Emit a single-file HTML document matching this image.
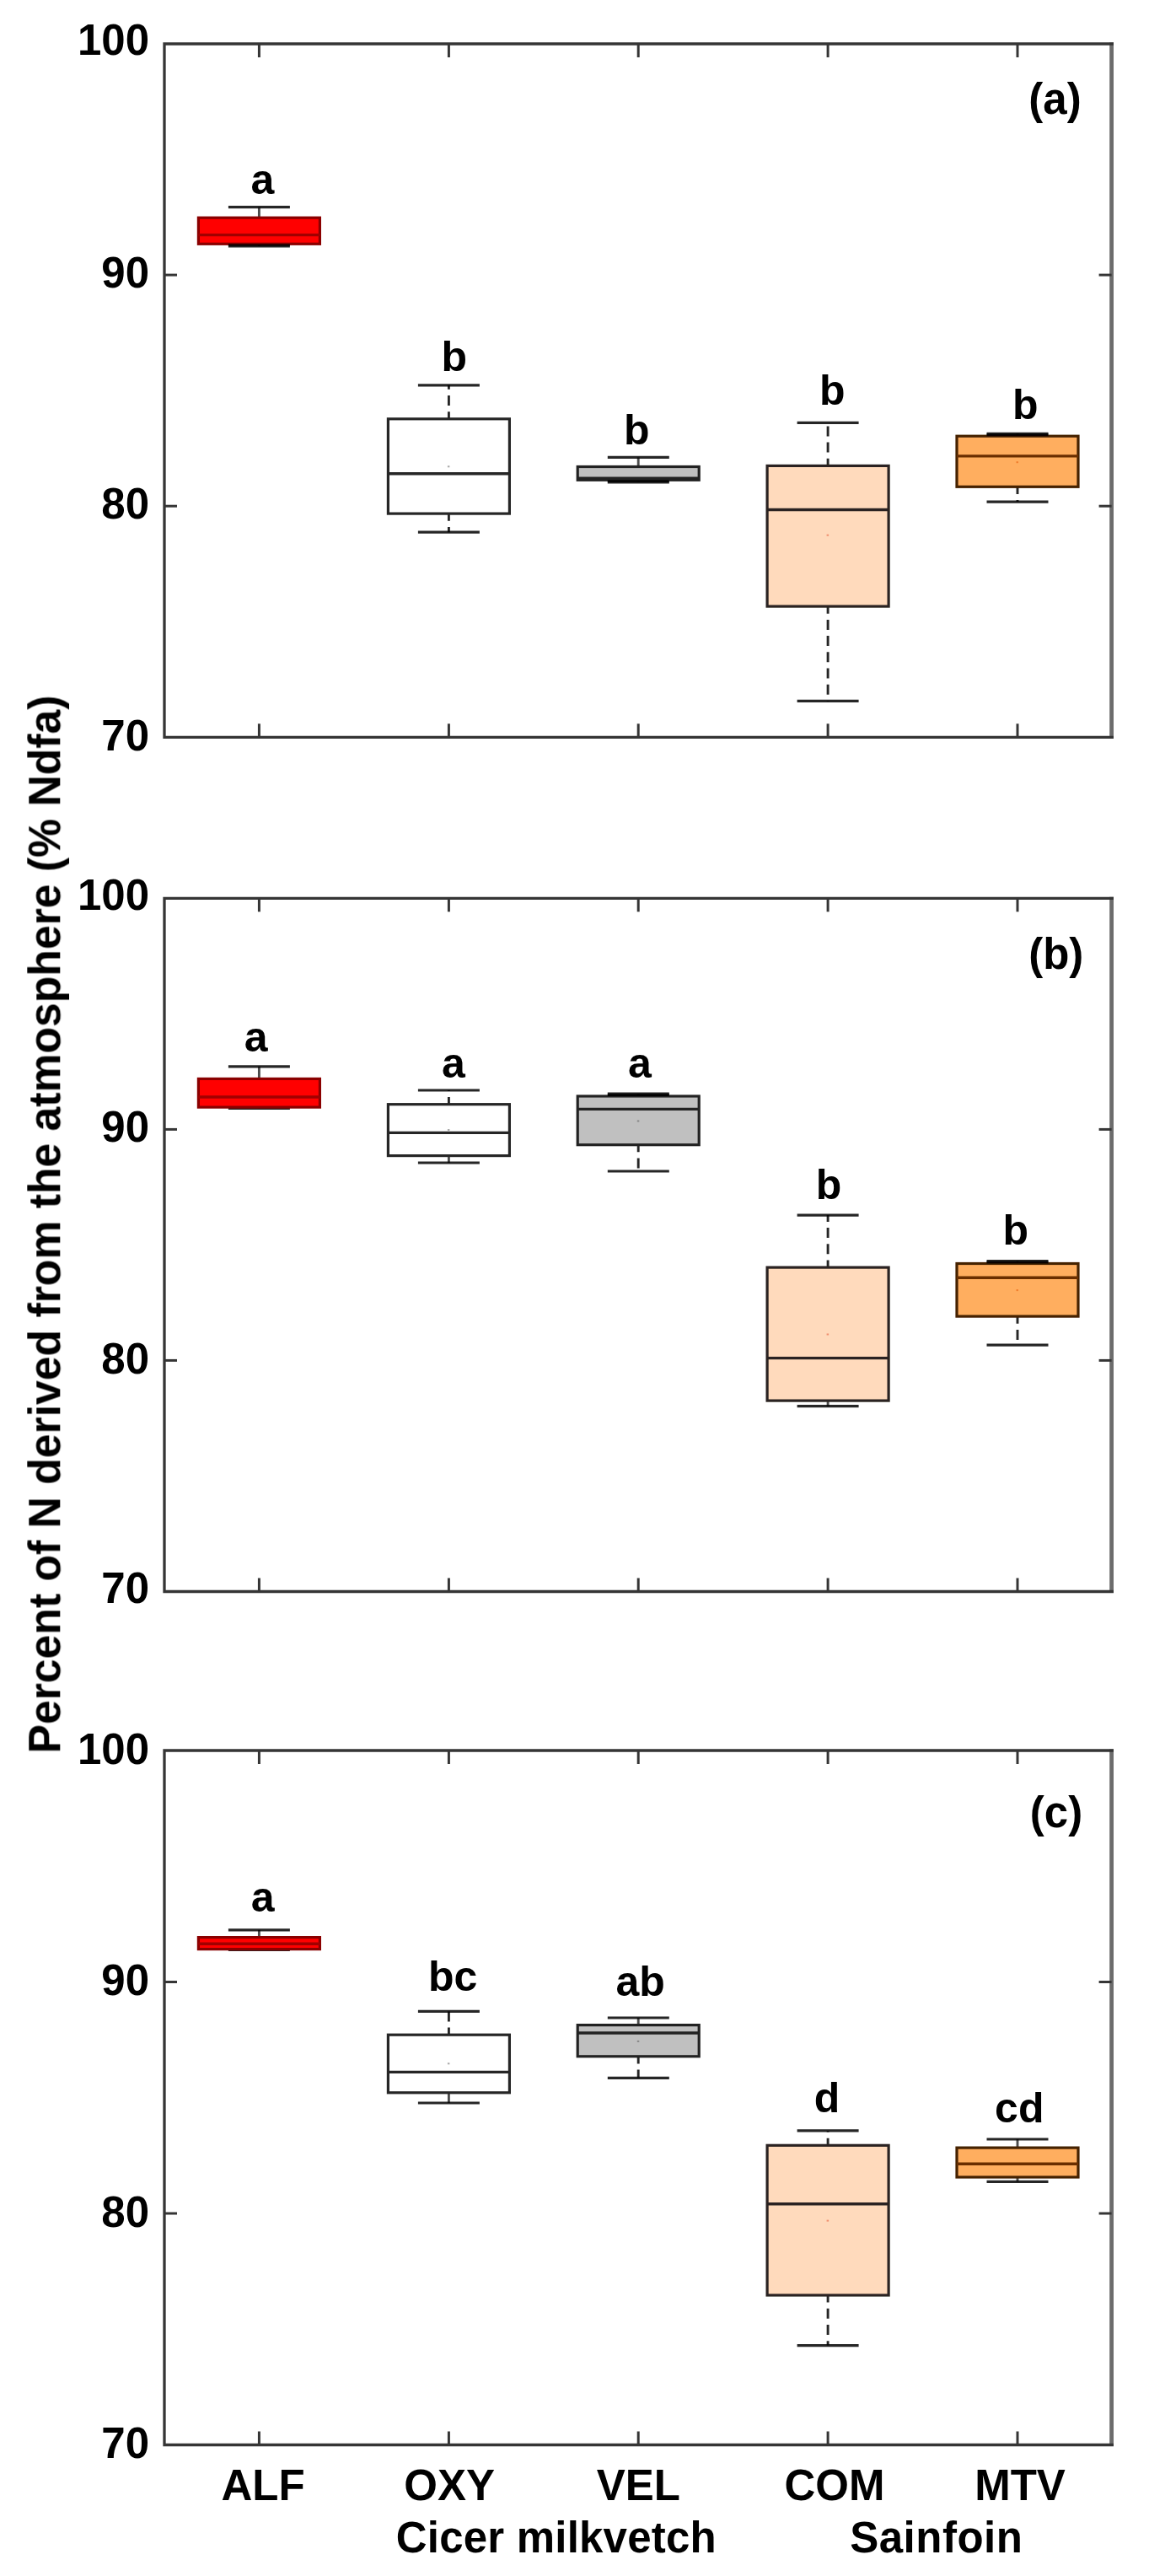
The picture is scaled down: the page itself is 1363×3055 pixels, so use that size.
<!DOCTYPE html>
<html lang="en"><head><meta charset="utf-8"><title>Percent of N derived from the atmosphere</title>
<style>
html,body{margin:0;padding:0;background:#fff}
svg{display:block}
text{font-family:"Liberation Sans",sans-serif;font-weight:bold;fill:#000}
.t{font-size:51px}
.s{font-size:50px}
</style></head><body>
<svg width="1363" height="3055" viewBox="0 0 1363 3055">
<rect width="1363" height="3055" fill="#fff"/>
<defs><filter id="soft" x="0" y="0" width="1363" height="3055" filterUnits="userSpaceOnUse"><feGaussianBlur stdDeviation="0.75"/></filter></defs>
<g filter="url(#soft)">
<g id="panel-a">
<line x1="307.4" y1="258.2" x2="307.4" y2="245.7" stroke="#000" stroke-opacity="0.7" stroke-width="2.9"/>
<line x1="307.4" y1="289.3" x2="307.4" y2="291.8" stroke="#000" stroke-opacity="0.7" stroke-width="2.9"/>
<line x1="270.9" y1="245.7" x2="343.9" y2="245.7" stroke="#000" stroke-opacity="0.85" stroke-width="3.2"/>
<line x1="270.9" y1="291.8" x2="343.9" y2="291.8" stroke="#000" stroke-opacity="0.85" stroke-width="3.2"/>
<rect x="235.4" y="258.2" width="144.0" height="31.1" fill="#ff0000" stroke="#8a0000" stroke-width="3.2"/>
<line x1="235.4" y1="278.6" x2="379.4" y2="278.6" stroke="#a00000" stroke-width="3.4"/>
<rect x="270.9" y="289.3" width="73.0" height="2.5" fill="#000" fill-opacity="0.85"/>
<text class="s" x="311.5" y="229.8" text-anchor="middle">a</text>
<line x1="532.4" y1="496.8" x2="532.4" y2="456.8" stroke="#000" stroke-opacity="0.85" stroke-width="2.9" stroke-dasharray="12 7.2" stroke-dashoffset="3.4"/>
<line x1="532.4" y1="609.1" x2="532.4" y2="631.2" stroke="#000" stroke-opacity="0.85" stroke-width="2.9" stroke-dasharray="12 7.2" stroke-dashoffset="3.4"/>
<line x1="495.9" y1="456.8" x2="568.9" y2="456.8" stroke="#000" stroke-opacity="0.85" stroke-width="3.2"/>
<line x1="495.9" y1="631.2" x2="568.9" y2="631.2" stroke="#000" stroke-opacity="0.85" stroke-width="3.2"/>
<rect x="460.4" y="496.8" width="144.0" height="112.3" fill="#ffffff" stroke="#262626" stroke-width="3.2"/>
<line x1="460.4" y1="561.8" x2="604.4" y2="561.8" stroke="#262626" stroke-width="3.4"/>
<rect x="530.9" y="552.3" width="2.5" height="2" fill="#aaaaaa"/>
<text class="s" x="538.7" y="439.6" text-anchor="middle">b</text>
<line x1="757.2" y1="553.5" x2="757.2" y2="542.4" stroke="#000" stroke-opacity="0.7" stroke-width="2.9"/>
<line x1="757.2" y1="569.3" x2="757.2" y2="572.0" stroke="#000" stroke-opacity="0.7" stroke-width="2.9"/>
<line x1="720.8" y1="542.4" x2="793.8" y2="542.4" stroke="#000" stroke-opacity="0.85" stroke-width="3.2"/>
<line x1="720.8" y1="572.0" x2="793.8" y2="572.0" stroke="#000" stroke-opacity="0.85" stroke-width="3.2"/>
<rect x="685.2" y="553.5" width="144.0" height="15.8" fill="#c0c0c0" stroke="#242424" stroke-width="3.2"/>
<line x1="685.2" y1="567.2" x2="829.2" y2="567.2" stroke="#242424" stroke-width="3.4"/>
<rect x="720.8" y="569.3" width="73.0" height="2.7" fill="#000" fill-opacity="0.85"/>
<text class="s" x="755.3" y="526.6" text-anchor="middle">b</text>
<line x1="982.1" y1="552.4" x2="982.1" y2="501.4" stroke="#000" stroke-opacity="0.85" stroke-width="2.9" stroke-dasharray="12 7.2" stroke-dashoffset="3.4"/>
<line x1="982.1" y1="719.1" x2="982.1" y2="831.4" stroke="#000" stroke-opacity="0.85" stroke-width="2.9" stroke-dasharray="12 7.2" stroke-dashoffset="3.4"/>
<line x1="945.6" y1="501.4" x2="1018.6" y2="501.4" stroke="#000" stroke-opacity="0.85" stroke-width="3.2"/>
<line x1="945.6" y1="831.4" x2="1018.6" y2="831.4" stroke="#000" stroke-opacity="0.85" stroke-width="3.2"/>
<rect x="910.1" y="552.4" width="144.0" height="166.7" fill="#ffdabc" stroke="#2b2420" stroke-width="3.2"/>
<line x1="910.1" y1="604.5" x2="1054.2" y2="604.5" stroke="#2b2420" stroke-width="3.4"/>
<rect x="980.6" y="633.7" width="2.5" height="2" fill="#f09070"/>
<text class="s" x="987.2" y="480.4" text-anchor="middle">b</text>
<line x1="1207.0" y1="517.2" x2="1207.0" y2="514.3" stroke="#000" stroke-opacity="0.7" stroke-width="2.9"/>
<line x1="1207.0" y1="577.3" x2="1207.0" y2="595.1" stroke="#000" stroke-opacity="0.85" stroke-width="2.9" stroke-dasharray="12 7.2" stroke-dashoffset="3.4"/>
<line x1="1170.5" y1="514.3" x2="1243.5" y2="514.3" stroke="#000" stroke-opacity="0.85" stroke-width="3.2"/>
<line x1="1170.5" y1="595.1" x2="1243.5" y2="595.1" stroke="#000" stroke-opacity="0.85" stroke-width="3.2"/>
<rect x="1135.0" y="517.2" width="144.0" height="60.1" fill="#ffae5e" stroke="#452000" stroke-width="3.2"/>
<line x1="1135.0" y1="540.9" x2="1279.0" y2="540.9" stroke="#6a2e00" stroke-width="3.4"/>
<rect x="1205.5" y="547.2" width="2.5" height="2" fill="#f08030"/>
<rect x="1170.5" y="514.3" width="73.0" height="2.9" fill="#000" fill-opacity="0.85"/>
<text class="s" x="1216.2" y="497.4" text-anchor="middle">b</text>
<line x1="1318.6" y1="50.4" x2="1318.6" y2="875.9" stroke="#6c6c6c" stroke-width="4.8"/>
<path d="M1321.0 52.0 H195.0 V874.3 H1321.0" fill="none" stroke="#363636" stroke-width="3.3" stroke-linejoin="miter"/>
<line x1="307.4" y1="52.0" x2="307.4" y2="68.0" stroke="#363636" stroke-width="3"/>
<line x1="307.4" y1="874.3" x2="307.4" y2="858.3" stroke="#363636" stroke-width="3"/>
<line x1="532.4" y1="52.0" x2="532.4" y2="68.0" stroke="#363636" stroke-width="3"/>
<line x1="532.4" y1="874.3" x2="532.4" y2="858.3" stroke="#363636" stroke-width="3"/>
<line x1="757.2" y1="52.0" x2="757.2" y2="68.0" stroke="#363636" stroke-width="3"/>
<line x1="757.2" y1="874.3" x2="757.2" y2="858.3" stroke="#363636" stroke-width="3"/>
<line x1="982.1" y1="52.0" x2="982.1" y2="68.0" stroke="#363636" stroke-width="3"/>
<line x1="982.1" y1="874.3" x2="982.1" y2="858.3" stroke="#363636" stroke-width="3"/>
<line x1="1207.0" y1="52.0" x2="1207.0" y2="68.0" stroke="#363636" stroke-width="3"/>
<line x1="1207.0" y1="874.3" x2="1207.0" y2="858.3" stroke="#363636" stroke-width="3"/>
<text class="t" x="177" y="65.0" text-anchor="end">100</text>
<line x1="195.0" y1="326.1" x2="210.0" y2="326.1" stroke="#363636" stroke-width="3"/>
<line x1="1318.6" y1="326.1" x2="1303.6" y2="326.1" stroke="#363636" stroke-width="3"/>
<text class="t" x="177" y="340.6" text-anchor="end">90</text>
<line x1="195.0" y1="600.2" x2="210.0" y2="600.2" stroke="#363636" stroke-width="3"/>
<line x1="1318.6" y1="600.2" x2="1303.6" y2="600.2" stroke="#363636" stroke-width="3"/>
<text class="t" x="177" y="614.7" text-anchor="end">80</text>
<text class="t" x="177" y="890.0" text-anchor="end">70</text>
<text class="t" x="1251.5" y="134.6" text-anchor="middle">(a)</text>
</g>
<g id="panel-b">
<line x1="307.4" y1="1279.4" x2="307.4" y2="1264.8" stroke="#000" stroke-opacity="0.7" stroke-width="2.9"/>
<line x1="307.4" y1="1313.1" x2="307.4" y2="1314.4" stroke="#000" stroke-opacity="0.7" stroke-width="2.9"/>
<line x1="270.9" y1="1264.8" x2="343.9" y2="1264.8" stroke="#000" stroke-opacity="0.85" stroke-width="3.2"/>
<line x1="270.9" y1="1314.4" x2="343.9" y2="1314.4" stroke="#000" stroke-opacity="0.85" stroke-width="3.2"/>
<rect x="235.4" y="1279.4" width="144.0" height="33.7" fill="#ff0000" stroke="#8a0000" stroke-width="3.2"/>
<line x1="235.4" y1="1301.0" x2="379.4" y2="1301.0" stroke="#a00000" stroke-width="3.4"/>
<text class="s" x="303.6" y="1246.5" text-anchor="middle">a</text>
<line x1="532.4" y1="1309.7" x2="532.4" y2="1293.0" stroke="#000" stroke-opacity="0.85" stroke-width="2.9" stroke-dasharray="12 7.2" stroke-dashoffset="3.4"/>
<line x1="532.4" y1="1370.6" x2="532.4" y2="1379.0" stroke="#000" stroke-opacity="0.7" stroke-width="2.9"/>
<line x1="495.9" y1="1293.0" x2="568.9" y2="1293.0" stroke="#000" stroke-opacity="0.85" stroke-width="3.2"/>
<line x1="495.9" y1="1379.0" x2="568.9" y2="1379.0" stroke="#000" stroke-opacity="0.85" stroke-width="3.2"/>
<rect x="460.4" y="1309.7" width="144.0" height="60.9" fill="#ffffff" stroke="#262626" stroke-width="3.2"/>
<line x1="460.4" y1="1343.4" x2="604.4" y2="1343.4" stroke="#262626" stroke-width="3.4"/>
<rect x="530.9" y="1339.0" width="2.5" height="2" fill="#aaaaaa"/>
<text class="s" x="538.0" y="1277.8" text-anchor="middle">a</text>
<line x1="757.2" y1="1300.0" x2="757.2" y2="1297.0" stroke="#000" stroke-opacity="0.7" stroke-width="2.9"/>
<line x1="757.2" y1="1357.7" x2="757.2" y2="1389.0" stroke="#000" stroke-opacity="0.85" stroke-width="2.9" stroke-dasharray="12 7.2" stroke-dashoffset="3.4"/>
<line x1="720.8" y1="1297.0" x2="793.8" y2="1297.0" stroke="#000" stroke-opacity="0.85" stroke-width="3.2"/>
<line x1="720.8" y1="1389.0" x2="793.8" y2="1389.0" stroke="#000" stroke-opacity="0.85" stroke-width="3.2"/>
<rect x="685.2" y="1300.0" width="144.0" height="57.7" fill="#c0c0c0" stroke="#242424" stroke-width="3.2"/>
<line x1="685.2" y1="1315.4" x2="829.2" y2="1315.4" stroke="#242424" stroke-width="3.4"/>
<rect x="755.8" y="1328.5" width="2.5" height="2" fill="#888888"/>
<rect x="720.8" y="1297.0" width="73.0" height="3.0" fill="#000" fill-opacity="0.85"/>
<text class="s" x="758.9" y="1278.2" text-anchor="middle">a</text>
<line x1="982.1" y1="1503.1" x2="982.1" y2="1441.1" stroke="#000" stroke-opacity="0.85" stroke-width="2.9" stroke-dasharray="12 7.2" stroke-dashoffset="3.4"/>
<line x1="982.1" y1="1661.1" x2="982.1" y2="1667.7" stroke="#000" stroke-opacity="0.7" stroke-width="2.9"/>
<line x1="945.6" y1="1441.1" x2="1018.6" y2="1441.1" stroke="#000" stroke-opacity="0.85" stroke-width="3.2"/>
<line x1="945.6" y1="1667.7" x2="1018.6" y2="1667.7" stroke="#000" stroke-opacity="0.85" stroke-width="3.2"/>
<rect x="910.1" y="1503.1" width="144.0" height="158.0" fill="#ffdabc" stroke="#2b2420" stroke-width="3.2"/>
<line x1="910.1" y1="1610.6" x2="1054.2" y2="1610.6" stroke="#2b2420" stroke-width="3.4"/>
<rect x="980.6" y="1581.5" width="2.5" height="2" fill="#f09070"/>
<text class="s" x="982.9" y="1422.3" text-anchor="middle">b</text>
<line x1="1207.0" y1="1498.5" x2="1207.0" y2="1495.6" stroke="#000" stroke-opacity="0.7" stroke-width="2.9"/>
<line x1="1207.0" y1="1561.1" x2="1207.0" y2="1595.2" stroke="#000" stroke-opacity="0.85" stroke-width="2.9" stroke-dasharray="12 7.2" stroke-dashoffset="3.4"/>
<line x1="1170.5" y1="1495.6" x2="1243.5" y2="1495.6" stroke="#000" stroke-opacity="0.85" stroke-width="3.2"/>
<line x1="1170.5" y1="1595.2" x2="1243.5" y2="1595.2" stroke="#000" stroke-opacity="0.85" stroke-width="3.2"/>
<rect x="1135.0" y="1498.5" width="144.0" height="62.6" fill="#ffae5e" stroke="#452000" stroke-width="3.2"/>
<line x1="1135.0" y1="1515.2" x2="1279.0" y2="1515.2" stroke="#6a2e00" stroke-width="3.4"/>
<rect x="1205.5" y="1529.1" width="2.5" height="2" fill="#f08030"/>
<rect x="1170.5" y="1495.6" width="73.0" height="2.9" fill="#000" fill-opacity="0.85"/>
<text class="s" x="1204.8" y="1475.5" text-anchor="middle">b</text>
<line x1="1318.6" y1="1063.7" x2="1318.6" y2="1889.1" stroke="#6c6c6c" stroke-width="4.8"/>
<path d="M1321.0 1065.3 H195.0 V1887.5 H1321.0" fill="none" stroke="#363636" stroke-width="3.3" stroke-linejoin="miter"/>
<line x1="307.4" y1="1065.3" x2="307.4" y2="1081.3" stroke="#363636" stroke-width="3"/>
<line x1="307.4" y1="1887.5" x2="307.4" y2="1871.5" stroke="#363636" stroke-width="3"/>
<line x1="532.4" y1="1065.3" x2="532.4" y2="1081.3" stroke="#363636" stroke-width="3"/>
<line x1="532.4" y1="1887.5" x2="532.4" y2="1871.5" stroke="#363636" stroke-width="3"/>
<line x1="757.2" y1="1065.3" x2="757.2" y2="1081.3" stroke="#363636" stroke-width="3"/>
<line x1="757.2" y1="1887.5" x2="757.2" y2="1871.5" stroke="#363636" stroke-width="3"/>
<line x1="982.1" y1="1065.3" x2="982.1" y2="1081.3" stroke="#363636" stroke-width="3"/>
<line x1="982.1" y1="1887.5" x2="982.1" y2="1871.5" stroke="#363636" stroke-width="3"/>
<line x1="1207.0" y1="1065.3" x2="1207.0" y2="1081.3" stroke="#363636" stroke-width="3"/>
<line x1="1207.0" y1="1887.5" x2="1207.0" y2="1871.5" stroke="#363636" stroke-width="3"/>
<text class="t" x="177" y="1078.9" text-anchor="end">100</text>
<line x1="195.0" y1="1339.4" x2="210.0" y2="1339.4" stroke="#363636" stroke-width="3"/>
<line x1="1318.6" y1="1339.4" x2="1303.6" y2="1339.4" stroke="#363636" stroke-width="3"/>
<text class="t" x="177" y="1353.9" text-anchor="end">90</text>
<line x1="195.0" y1="1613.4" x2="210.0" y2="1613.4" stroke="#363636" stroke-width="3"/>
<line x1="1318.6" y1="1613.4" x2="1303.6" y2="1613.4" stroke="#363636" stroke-width="3"/>
<text class="t" x="177" y="1628.6" text-anchor="end">80</text>
<text class="t" x="177" y="1900.8" text-anchor="end">70</text>
<text class="t" x="1252.8" y="1148.6" text-anchor="middle">(b)</text>
</g>
<g id="panel-c">
<line x1="307.4" y1="2297.6" x2="307.4" y2="2288.9" stroke="#000" stroke-opacity="0.7" stroke-width="2.9"/>
<line x1="307.4" y1="2311.6" x2="307.4" y2="2312.5" stroke="#000" stroke-opacity="0.7" stroke-width="2.9"/>
<line x1="270.9" y1="2288.9" x2="343.9" y2="2288.9" stroke="#000" stroke-opacity="0.85" stroke-width="3.2"/>
<line x1="270.9" y1="2312.5" x2="343.9" y2="2312.5" stroke="#000" stroke-opacity="0.85" stroke-width="3.2"/>
<rect x="235.4" y="2297.6" width="144.0" height="14.0" fill="#ff0000" stroke="#8a0000" stroke-width="3.2"/>
<line x1="235.4" y1="2305.3" x2="379.4" y2="2305.3" stroke="#a00000" stroke-width="3.4"/>
<text class="s" x="311.6" y="2267.0" text-anchor="middle">a</text>
<line x1="532.4" y1="2413.2" x2="532.4" y2="2385.4" stroke="#000" stroke-opacity="0.85" stroke-width="2.9" stroke-dasharray="12 7.2" stroke-dashoffset="3.4"/>
<line x1="532.4" y1="2481.8" x2="532.4" y2="2494.0" stroke="#000" stroke-opacity="0.7" stroke-width="2.9"/>
<line x1="495.9" y1="2385.4" x2="568.9" y2="2385.4" stroke="#000" stroke-opacity="0.85" stroke-width="3.2"/>
<line x1="495.9" y1="2494.0" x2="568.9" y2="2494.0" stroke="#000" stroke-opacity="0.85" stroke-width="3.2"/>
<rect x="460.4" y="2413.2" width="144.0" height="68.6" fill="#ffffff" stroke="#262626" stroke-width="3.2"/>
<line x1="460.4" y1="2457.4" x2="604.4" y2="2457.4" stroke="#262626" stroke-width="3.4"/>
<rect x="530.9" y="2446.3" width="2.5" height="2" fill="#aaaaaa"/>
<text class="s" x="537.1" y="2361.0" text-anchor="middle">bc</text>
<line x1="757.2" y1="2401.6" x2="757.2" y2="2393.0" stroke="#000" stroke-opacity="0.7" stroke-width="2.9"/>
<line x1="757.2" y1="2438.8" x2="757.2" y2="2464.3" stroke="#000" stroke-opacity="0.85" stroke-width="2.9" stroke-dasharray="12 7.2" stroke-dashoffset="3.4"/>
<line x1="720.8" y1="2393.0" x2="793.8" y2="2393.0" stroke="#000" stroke-opacity="0.85" stroke-width="3.2"/>
<line x1="720.8" y1="2464.3" x2="793.8" y2="2464.3" stroke="#000" stroke-opacity="0.85" stroke-width="3.2"/>
<rect x="685.2" y="2401.6" width="144.0" height="37.2" fill="#c0c0c0" stroke="#242424" stroke-width="3.2"/>
<line x1="685.2" y1="2411.0" x2="829.2" y2="2411.0" stroke="#242424" stroke-width="3.4"/>
<rect x="755.8" y="2419.9" width="2.5" height="2" fill="#888888"/>
<text class="s" x="759.7" y="2367.2" text-anchor="middle">ab</text>
<line x1="982.1" y1="2544.3" x2="982.1" y2="2526.9" stroke="#000" stroke-opacity="0.85" stroke-width="2.9" stroke-dasharray="12 7.2" stroke-dashoffset="3.4"/>
<line x1="982.1" y1="2722.0" x2="982.1" y2="2781.6" stroke="#000" stroke-opacity="0.85" stroke-width="2.9" stroke-dasharray="12 7.2" stroke-dashoffset="3.4"/>
<line x1="945.6" y1="2526.9" x2="1018.6" y2="2526.9" stroke="#000" stroke-opacity="0.85" stroke-width="3.2"/>
<line x1="945.6" y1="2781.6" x2="1018.6" y2="2781.6" stroke="#000" stroke-opacity="0.85" stroke-width="3.2"/>
<rect x="910.1" y="2544.3" width="144.0" height="177.7" fill="#ffdabc" stroke="#2b2420" stroke-width="3.2"/>
<line x1="910.1" y1="2613.7" x2="1054.2" y2="2613.7" stroke="#2b2420" stroke-width="3.4"/>
<rect x="980.6" y="2632.6" width="2.5" height="2" fill="#f09070"/>
<text class="s" x="981.1" y="2505.0" text-anchor="middle">d</text>
<line x1="1207.0" y1="2547.1" x2="1207.0" y2="2537.0" stroke="#000" stroke-opacity="0.7" stroke-width="2.9"/>
<line x1="1207.0" y1="2582.0" x2="1207.0" y2="2587.3" stroke="#000" stroke-opacity="0.7" stroke-width="2.9"/>
<line x1="1170.5" y1="2537.0" x2="1243.5" y2="2537.0" stroke="#000" stroke-opacity="0.85" stroke-width="3.2"/>
<line x1="1170.5" y1="2587.3" x2="1243.5" y2="2587.3" stroke="#000" stroke-opacity="0.85" stroke-width="3.2"/>
<rect x="1135.0" y="2547.1" width="144.0" height="34.9" fill="#ffae5e" stroke="#452000" stroke-width="3.2"/>
<line x1="1135.0" y1="2566.3" x2="1279.0" y2="2566.3" stroke="#6a2e00" stroke-width="3.4"/>
<text class="s" x="1209.3" y="2517.4" text-anchor="middle">cd</text>
<line x1="1318.6" y1="2074.4" x2="1318.6" y2="2901.1" stroke="#6c6c6c" stroke-width="4.8"/>
<path d="M1321.0 2076.0 H195.0 V2899.5 H1321.0" fill="none" stroke="#363636" stroke-width="3.3" stroke-linejoin="miter"/>
<line x1="307.4" y1="2076.0" x2="307.4" y2="2092.0" stroke="#363636" stroke-width="3"/>
<line x1="307.4" y1="2899.5" x2="307.4" y2="2883.5" stroke="#363636" stroke-width="3"/>
<line x1="532.4" y1="2076.0" x2="532.4" y2="2092.0" stroke="#363636" stroke-width="3"/>
<line x1="532.4" y1="2899.5" x2="532.4" y2="2883.5" stroke="#363636" stroke-width="3"/>
<line x1="757.2" y1="2076.0" x2="757.2" y2="2092.0" stroke="#363636" stroke-width="3"/>
<line x1="757.2" y1="2899.5" x2="757.2" y2="2883.5" stroke="#363636" stroke-width="3"/>
<line x1="982.1" y1="2076.0" x2="982.1" y2="2092.0" stroke="#363636" stroke-width="3"/>
<line x1="982.1" y1="2899.5" x2="982.1" y2="2883.5" stroke="#363636" stroke-width="3"/>
<line x1="1207.0" y1="2076.0" x2="1207.0" y2="2092.0" stroke="#363636" stroke-width="3"/>
<line x1="1207.0" y1="2899.5" x2="1207.0" y2="2883.5" stroke="#363636" stroke-width="3"/>
<text class="t" x="177" y="2091.5" text-anchor="end">100</text>
<line x1="195.0" y1="2350.5" x2="210.0" y2="2350.5" stroke="#363636" stroke-width="3"/>
<line x1="1318.6" y1="2350.5" x2="1303.6" y2="2350.5" stroke="#363636" stroke-width="3"/>
<text class="t" x="177" y="2366.0" text-anchor="end">90</text>
<line x1="195.0" y1="2625.0" x2="210.0" y2="2625.0" stroke="#363636" stroke-width="3"/>
<line x1="1318.6" y1="2625.0" x2="1303.6" y2="2625.0" stroke="#363636" stroke-width="3"/>
<text class="t" x="177" y="2640.5" text-anchor="end">80</text>
<text class="t" x="177" y="2914.6" text-anchor="end">70</text>
<text class="t" x="1253" y="2167" text-anchor="middle">(c)</text>
</g>
<text class="t" x="312.0" y="2965" text-anchor="middle">ALF</text>
<text class="t" x="533.2" y="2965" text-anchor="middle">OXY</text>
<text class="t" x="757.3" y="2965" text-anchor="middle">VEL</text>
<text class="t" x="990" y="2965" text-anchor="middle">COM</text>
<text class="t" x="1210" y="2965" text-anchor="middle">MTV</text>
<text class="t" x="659.8" y="3027" text-anchor="middle" letter-spacing="0.2">Cicer milkvetch</text>
<text class="t" x="1110.8" y="3027" text-anchor="middle" letter-spacing="0.5">Sainfoin</text>
<text font-size="53.5" transform="translate(71.3 2079.5) rotate(-90)" textLength="1255" lengthAdjust="spacingAndGlyphs">Percent of N derived from the atmosphere (% Ndfa)</text>
</g></svg></body></html>
